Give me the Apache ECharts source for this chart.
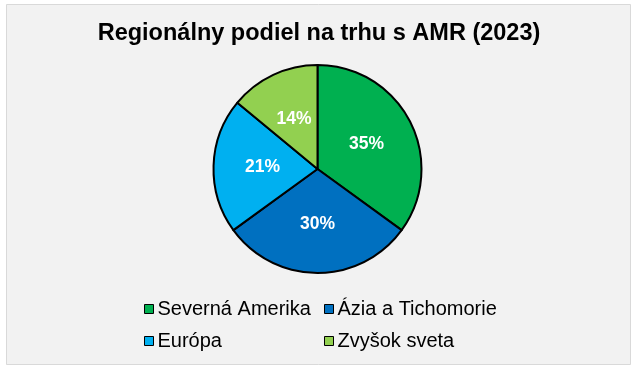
<!DOCTYPE html>
<html><head><meta charset="utf-8">
<script src="https://cdn.jsdelivr.net/npm/echarts@6/dist/echarts.min.js"></script>
<style>html,body{margin:0;padding:0;background:#fff}#c{width:638px;height:371px}</style>
</head><body><div id="c"></div>
<script>
const titleText = 'Regionálny podiel na trhu s AMR (2023)';
const categories = ['Severná Amerika', 'Ázia a Tichomorie', 'Európa', 'Zvyšok sveta'];
const values = [35, 30, 21, 14];
const colors = ['#00B050', '#0070C0', '#00B0F0', '#92D050'];
const legendPos = [[144, 299], [324, 299], [144, 331], [324, 331]];

const chart = echarts.init(document.getElementById('c'), null, {renderer: 'canvas'});
const legends = categories.map((n, i) => ({
  data: [n], left: legendPos[i][0], top: legendPos[i][1],
  icon: 'rect', itemWidth: 9, itemHeight: 9, itemGap: 4, padding: 0,
  itemStyle: {borderColor: '#000', borderWidth: 1},
  textStyle: {fontFamily: 'Liberation Sans, Arial', fontSize: 20, color: '#000', padding: [0, 0, 0, -1]},
  selectedMode: false
}));
chart.setOption({
  animation: false,
  graphic: [{type: 'rect', shape: {x: 6.5, y: 4.5, width: 624, height: 360},
    style: {fill: '#F2F2F2', stroke: '#D9D9D9', lineWidth: 1}, z: -10}],
  title: {text: titleText, left: 'center', top: 17,
    textStyle: {fontFamily: 'Liberation Sans, Arial', fontWeight: 'bold', fontSize: 23.5, color: '#000'}},
  legend: legends,
  series: [{
    type: 'pie', center: [317.5, 169], radius: [0, 104], startAngle: 90, clockwise: true,
    data: categories.map((n, i) => ({name: n, value: values[i], itemStyle: {color: colors[i]}})),
    itemStyle: {borderColor: '#000', borderWidth: 2},
    label: {show: true, position: 'inside', formatter: '{c}%', color: '#fff',
      fontFamily: 'Liberation Sans, Arial', fontWeight: 'bold', fontSize: 17.5},
    labelLine: {show: false}, emphasis: {disabled: true}
  }]
});
</script></body></html>
